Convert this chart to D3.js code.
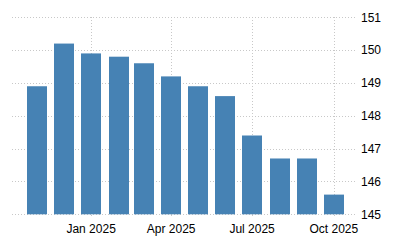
<!DOCTYPE html>
<html lang="en">
<head>
<meta charset="UTF-8">
<title>Chart</title>
<style>
  body { margin: 0; background: #fff; }
  .grid line { stroke: #c8c8c8; stroke-width: 1px; stroke-dasharray: 1,2; shape-rendering: crispEdges; }
  .bar { fill: #4682b4; }
  text { font: 12px Arial, "Liberation Sans", sans-serif; fill: #000; }
</style>
</head>
<body>
<script src="https://cdnjs.cloudflare.com/ajax/libs/d3/7.8.5/d3.min.js"></script>
<script>

var months = ["2024-11", "2024-12", "2025-01", "2025-02", "2025-03", "2025-04",
              "2025-05", "2025-06", "2025-07", "2025-08", "2025-09", "2025-10"];
var values = [148.9, 150.2, 149.9, 149.8, 149.6, 149.2,
              148.9, 148.6, 147.4, 146.7, 146.7, 145.6];
var yTicks = [145, 146, 147, 148, 149, 150, 151];
var xTicks = ["2025-01", "2025-04", "2025-07", "2025-10"];

var width = 400,
    height = 250;

var parse = d3.timeParse("%Y-%m");
var fmt = d3.timeFormat("%b %Y");

var svg = d3.select("body").append("svg")
  .attr("width", width)
  .attr("height", height);

var x = d3.scaleTime()
  .domain([new Date(2024, 9, 4), new Date(2025, 9, 27)])
  .range([12, 357]);

var y = d3.scaleLinear()
  .domain([145, 151])
  .range([214.3, 17.3]);

var grid = svg.append("g").attr("class", "grid");

grid.selectAll(".h")
  .data(yTicks)
  .enter().append("line")
    .attr("x1", 12)
    .attr("x2", 357)
    .attr("y1", function(d){ return Math.round(y(d)) + 0.5; })
    .attr("y2", function(d){ return Math.round(y(d)) + 0.5; });

grid.selectAll(".v")
  .data(xTicks)
  .enter().append("line")
    .attr("x1", function(d){ return Math.round(x(parse(d))) + 0.5; })
    .attr("x2", function(d){ return Math.round(x(parse(d))) + 0.5; })
    .attr("y1", 17)
    .attr("y2", 217);

svg.selectAll(".bar")
  .data(values)
  .enter().append("rect")
    .attr("class", "bar")
    .attr("x", function(d, i){ return Math.round(x(parse(months[i]))) - 10; })
    .attr("width", 20)
    .attr("y", function(d){ return y(d); })
    .attr("height", function(d){ return y(145) - y(d); });

svg.selectAll(".ylab")
  .data(yTicks)
  .enter().append("text")
    .attr("x", 361)
    .attr("y", function(d){ return y(d); })
    .attr("dy", "0.35em")
    .text(function(d){ return d; });

svg.selectAll(".xlab")
  .data(xTicks)
  .enter().append("text")
    .attr("x", function(d){ return x(parse(d)); })
    .attr("y", 233)
    .attr("text-anchor", "middle")
    .text(function(d){ return fmt(parse(d)); });

</script>
</body>
</html>
